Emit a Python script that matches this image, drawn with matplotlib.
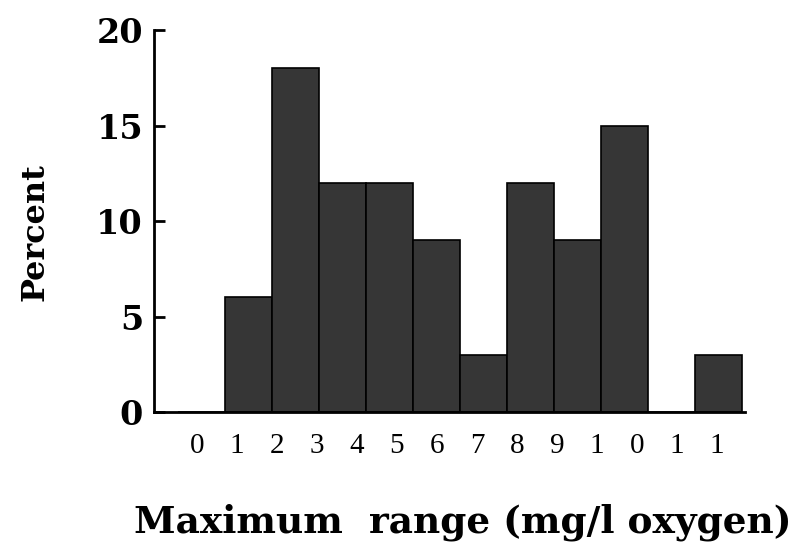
import numpy as np
import matplotlib.pyplot as plt

## Donnees
bins = np.arange(12)            # classes 0-1, 1-2, ..., 11-12
percent = [0, 6, 18, 12, 12, 9, 3, 12, 9, 15, 0, 3]
tick_labels = ["0", "1", "2", "3", "4", "5", "6", "7", "8", "9", "1", "0", "1", "1"]
yticks = [0, 5, 10, 15, 20]

plt.rcParams['font.family'] = ['Liberation Serif', 'DejaVu Serif']

fig = plt.figure(figsize=(7.95, 5.49), dpi=100)
ax = fig.add_axes([0.194, 0.2495, 0.743, 0.6955])

ax.bar(bins, percent, width=1, align='edge', color='#363636',
       edgecolor='black', linewidth=1.2)

ax.set_xlim(-0.51, 12.06)
ax.set_ylim(0, 20)

## Axes
for s in ['top', 'right']:
    ax.spines[s].set_visible(False)
ax.spines['left'].set_linewidth(2)
ax.spines['bottom'].set_linewidth(2)

ax.set_yticks(yticks)
ax.set_yticklabels([str(v) for v in yticks], fontsize=24, fontweight='bold',
                   family='DejaVu Serif')
ax.tick_params(axis='y', direction='in', length=8, width=2, pad=8)

pos = 0.4 + 0.851 * np.arange(len(tick_labels))
ax.set_xticks(pos)
ax.set_xticklabels(tick_labels, fontsize=21)
ax.tick_params(axis='x', length=0, pad=15)

fig.text(0.044, 0.577, "Percent", rotation=90, fontsize=23, fontweight='bold',
         family='DejaVu Serif', ha='center', va='center')
fig.text(0.582, 0.049, "Maximum  range (mg/l oxygen)", fontsize=27,
         fontweight='bold', family='DejaVu Serif', ha='center', va='center')

plt.savefig("out.png", dpi=100)
